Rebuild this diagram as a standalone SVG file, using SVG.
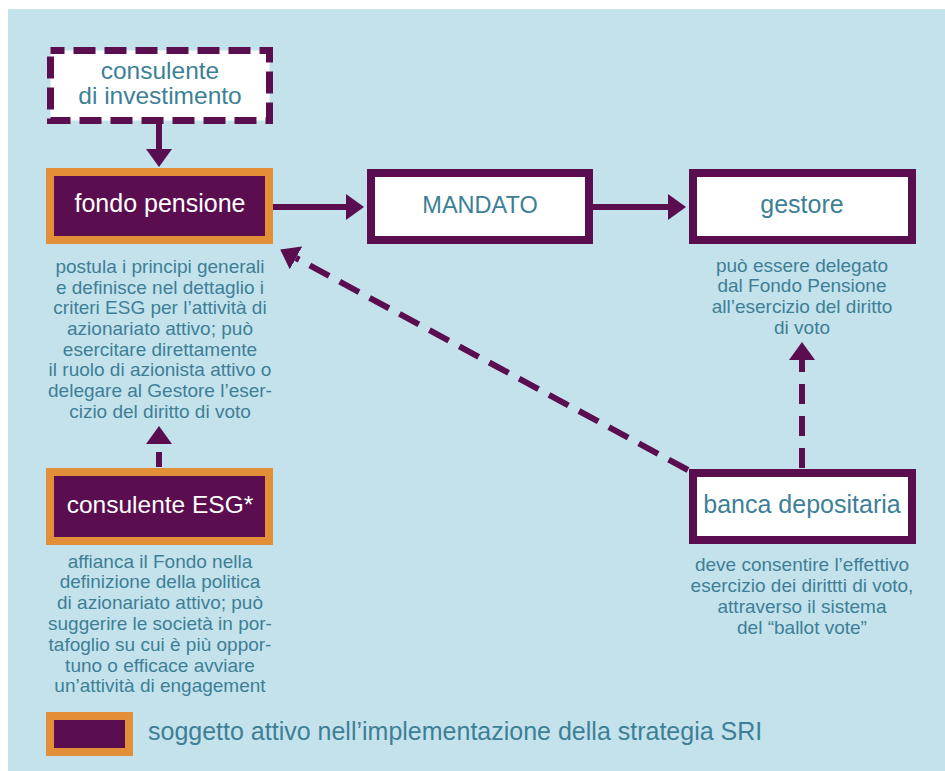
<svg xmlns="http://www.w3.org/2000/svg" width="945" height="771" viewBox="0 0 945 771">
<style>
.bg{fill:#c4e2eb}
.act-o{fill:#e28f38}
.act-i{fill:#5b0e4f}
.box{fill:#ffffff;stroke:#5b0e4f;stroke-width:8}
.t{font-family:"Liberation Sans",Arial,sans-serif;fill:#3d7f96;text-anchor:middle}
.tw{font-family:"Liberation Sans",Arial,sans-serif;fill:#ffffff;text-anchor:middle}
.lbl{font-size:25px}
.body{font-size:19px}
.c{fill:none;stroke:#5b0e4f;stroke-width:6}
.dash{stroke-dasharray:22 12}
</style>
<defs>
<marker id="ah" viewBox="0 0 18 26" refX="0" refY="13" markerWidth="18" markerHeight="26" orient="auto" markerUnits="userSpaceOnUse">
<path d="M0,0 L18,13 L0,26 z" fill="#5b0e4f"/>
</marker>
</defs>
<rect x="0" y="0" width="945" height="771" fill="#ffffff"/>
<rect class="bg" x="8" y="9" width="937" height="762"/>

<g id="connectors">
<line class="c" x1="159" y1="124" x2="159" y2="149" marker-end="url(#ah)"/>
<line class="c" x1="273" y1="207" x2="346" y2="207" marker-end="url(#ah)"/>
<line class="c" x1="593" y1="207" x2="668" y2="207" marker-end="url(#ah)"/>
<line class="c" x1="159" y1="467" x2="159" y2="444" style="stroke-dasharray:15 8" marker-end="url(#ah)"/>
<line class="c dash" x1="802" y1="468" x2="802" y2="360" style="stroke-dasharray:20 12" marker-end="url(#ah)"/>
<line class="c dash" x1="688" y1="470" x2="296" y2="258" marker-end="url(#ah)"/>
</g>

<g id="consulente-investimento">
<rect x="50.5" y="50.5" width="219" height="70" fill="#ffffff" stroke="#5b0e4f" stroke-width="7" stroke-dasharray="22 9" stroke-dashoffset="8"/>
<text class="t" x="160" y="79" style="font-size:24.5px">consulente</text>
<text class="t" x="160" y="104" style="font-size:24.5px">di investimento</text>
</g>

<g id="fondo-pensione">
<rect class="act-o" x="46" y="168" width="227" height="76"/>
<rect class="act-i" x="54" y="176" width="211" height="60"/>
<text class="tw lbl" x="160" y="212">fondo pensione</text>
<text class="t body" x="160" y="273">postula i principi generali</text>
<text class="t body" x="160" y="294">e definisce nel dettaglio i</text>
<text class="t body" x="160" y="314">criteri ESG per l’attività di</text>
<text class="t body" x="160" y="335">azionariato attivo; può</text>
<text class="t body" x="160" y="356">esercitare direttamente</text>
<text class="t body" x="160" y="376">il ruolo di azionista attivo o</text>
<text class="t body" x="160" y="397">delegare al Gestore l’eser-</text>
<text class="t body" x="160" y="418">cizio del diritto di voto</text>
</g>

<g id="mandato">
<rect class="box" x="371" y="173" width="218" height="67"/>
<text class="t" x="480" y="213" style="font-size:23.5px">MANDATO</text>
</g>

<g id="gestore">
<rect class="box" x="693" y="173" width="219" height="67"/>
<text class="t lbl" x="802" y="213">gestore</text>
<text class="t body" x="802" y="272">può essere delegato</text>
<text class="t body" x="802" y="292">dal Fondo Pensione</text>
<text class="t body" x="802" y="313">all’esercizio del diritto</text>
<text class="t body" x="802" y="334">di voto</text>
</g>

<g id="banca-depositaria">
<rect class="box" x="693" y="473" width="219" height="67"/>
<text class="t lbl" x="802" y="513">banca depositaria</text>
<text class="t body" x="802" y="571">deve consentire l’effettivo</text>
<text class="t body" x="802" y="592">esercizio dei dirittti di voto,</text>
<text class="t body" x="802" y="613">attraverso il sistema</text>
<text class="t body" x="802" y="634">del “ballot vote”</text>
</g>

<g id="consulente-esg">
<rect class="act-o" x="46" y="468" width="227" height="77"/>
<rect class="act-i" x="54" y="476" width="211" height="61"/>
<text class="tw" x="160" y="513" style="font-size:24.5px">consulente ESG*</text>
<text class="t body" x="160" y="568">affianca il Fondo nella</text>
<text class="t body" x="160" y="588">definizione della politica</text>
<text class="t body" x="160" y="609">di azionariato attivo; può</text>
<text class="t body" x="160" y="630">suggerire le società in por-</text>
<text class="t body" x="160" y="651">tafoglio su cui è più oppor-</text>
<text class="t body" x="160" y="672">tuno o efficace avviare</text>
<text class="t body" x="160" y="692">un’attività di engagement</text>
</g>

<g id="legend">
<rect class="act-o" x="46" y="712" width="87" height="44"/>
<rect class="act-i" x="54" y="720" width="71" height="28"/>
<text class="t" x="148" y="740" style="font-size:25px;text-anchor:start">soggetto attivo nell’implementazione della strategia SRI</text>
</g>
</svg>
